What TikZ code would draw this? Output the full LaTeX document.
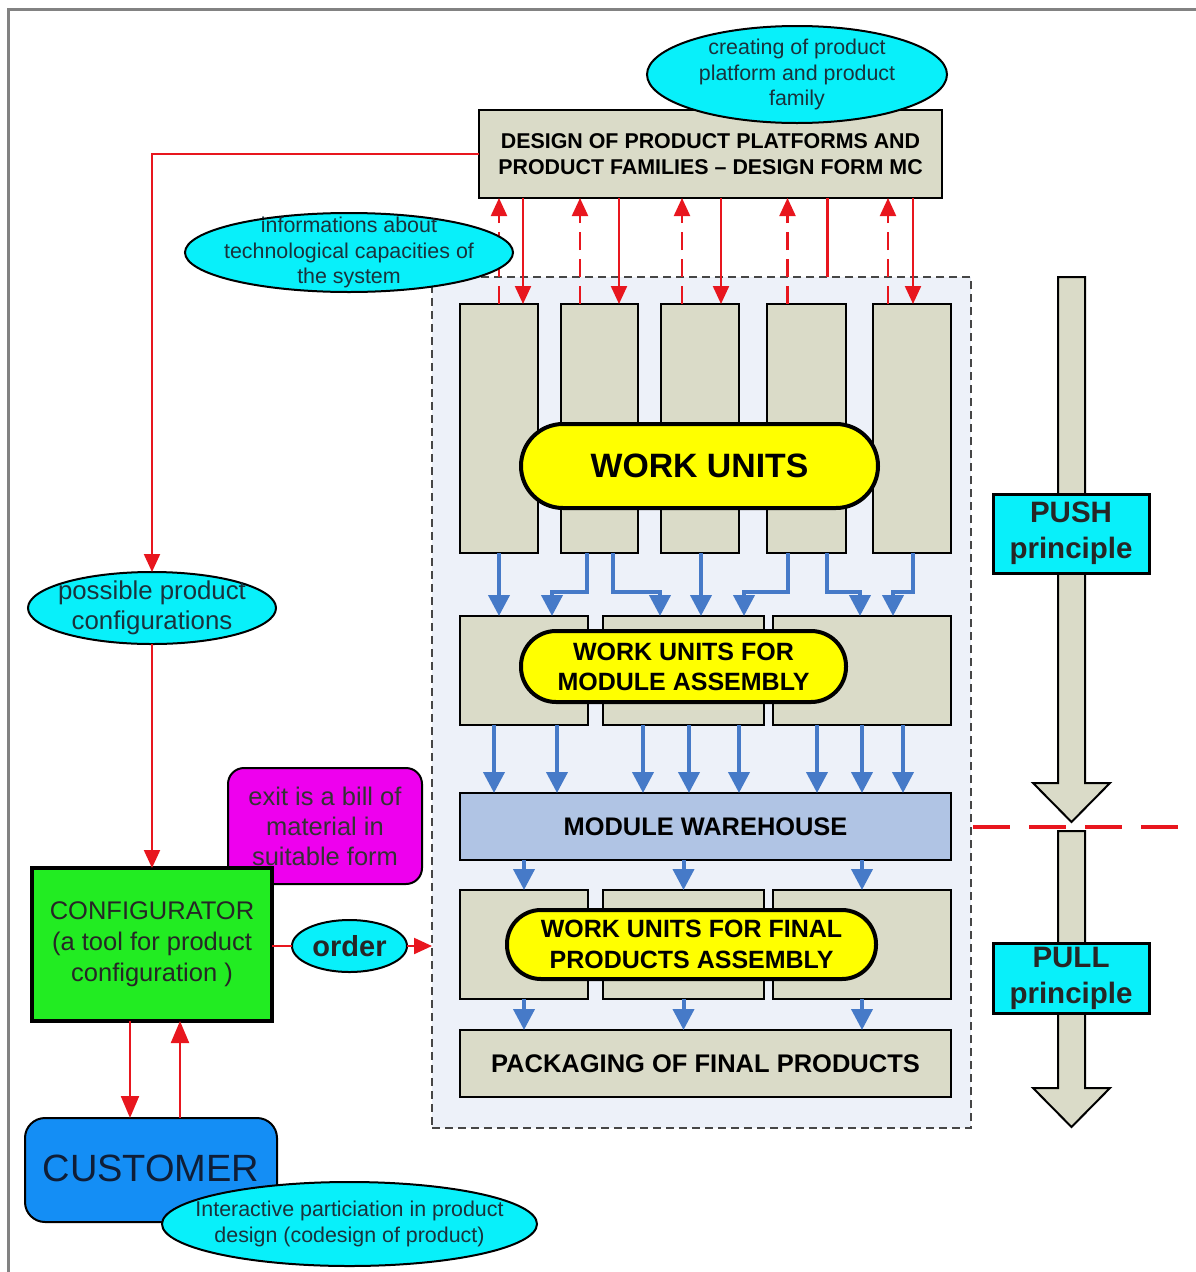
\documentclass[tikz,border=0pt]{standalone}
\usepackage{fontspec}
\setmainfont{Liberation Sans}
\usetikzlibrary{arrows.meta,shapes.geometric,calc}

\definecolor{beige}{RGB}{218,219,200}
\definecolor{zonefill}{RGB}{237,241,249}
\definecolor{whfill}{RGB}{176,196,228}
\definecolor{flowblue}{RGB}{70,122,200}
\definecolor{linkred}{RGB}{232,22,30}
\definecolor{notecyan}{RGB}{8,240,250}
\definecolor{pillyellow}{RGB}{255,255,0}
\definecolor{cfggreen}{RGB}{34,236,34}
\definecolor{notemagenta}{RGB}{238,0,238}
\definecolor{custblue}{RGB}{20,142,245}
\definecolor{framegray}{RGB}{130,130,130}
\definecolor{inktext}{RGB}{25,50,60}
\definecolor{zoneline}{RGB}{70,70,70}

\tikzset{
  box/.style={draw=black, line width=2pt, fill=beige, inner sep=0pt, outer sep=0pt},
  pill/.style={draw=black, line width=4pt, fill=pillyellow, inner sep=0pt, outer sep=0pt, align=center},
  note/.style={ellipse, draw=black, line width=2pt, fill=notecyan, inner sep=0pt, outer sep=0pt},
  notetext/.style={align=center, text=inktext, font=\fontsize{21.4}{25.5}\selectfont},
  redarr/.style={draw=linkred, line width=2.2pt, -{Triangle[width=16pt,length=18pt]}},
  reddash/.style={redarr, dash pattern=on 18pt off 9pt},
  redline/.style={draw=linkred, line width=2.2pt},
  blueflow/.style={draw=flowblue, line width=4pt, -{Triangle[width=21pt,length=21pt]}},
  bigarrow/.style={draw=black, line width=2pt, fill=beige, line join=miter},
  tag/.style={draw=black, line width=3pt, fill=notecyan, inner sep=0pt, outer sep=0pt, align=center,
    font=\bfseries\fontsize{29.5}{36}\selectfont, text=black!85},
}

\begin{document}
\begin{tikzpicture}[x=1pt,y=-1pt]
\useasboundingbox (0,0) rectangle (1196,1272);

% page frame
\draw[framegray, line width=3pt] (8,1272) -- (8,9) -- (1196,9);

% production zone
\node[draw=zoneline, line width=1.5pt, dash pattern=on 8pt off 5pt, fill=zonefill,
  minimum width=539pt, minimum height=851pt, inner sep=0pt, outer sep=0pt] (region) at (701.5,702.5) {};

% design of platforms
\node[box, minimum width=463pt, minimum height=88pt, align=center,
  font=\bfseries\fontsize{21.4}{26}\selectfont] (design) at (710.5,154)
  {DESIGN OF PRODUCT PLATFORMS AND\\PRODUCT FAMILIES -- DESIGN FORM MC};
\node[note, minimum width=300pt, minimum height=97pt] (topnote) at (797,74.5) {};
\node[notetext] at (topnote) {creating of product\\platform and product\\family};

% work unit columns
\foreach \n/\x/\w in {w1/499/78, w2/599.5/77, w3/700/78, w4/806.5/79, w5/912/78}
  \node[box, minimum width=\w pt, minimum height=249pt] (\n) at (\x,428.5) {};

% links between design and work units
\foreach \n/\u/\d in {w1/0/24, w2/-19.5/19.5, w3/-18/21, w5/-24/1} {
  \draw[reddash] ($(\n.north)+(\u,0)$) -- ($(\n.north |- design.south)+(\u,0)$);
  \draw[redarr] ($(\n.north |- design.south)+(\d,0)$) -- ($(\n.north)+(\d,0)$);
}
\draw[reddash] ($(w4.north)+(-19,0)$) -- ($(w4.north |- design.south)+(-19,0)$);
\draw[redline] ($(w4.north |- design.south)+(21,0)$) -- ($(w4.north |- region.north)+(21,0)$);

\node[note, minimum width=328pt, minimum height=79pt] (infonote) at (349,252.5) {};
\node[notetext] at (infonote) {informations about\\technological capacities of\\the system};

\node[pill, minimum width=357pt, minimum height=84pt, rounded corners=42pt,
  font=\bfseries\fontsize{33.8}{40}\selectfont] (wu) at (699.5,466) {WORK UNITS};

% module assembly units
\foreach \n/\x/\w in {m1/524/128, m2/683.5/161, m3/862/178}
  \node[box, minimum width=\w pt, minimum height=109pt] (\n) at (\x,670.5) {};
\node[pill, minimum width=325pt, minimum height=71pt, rounded corners=35pt,
  font=\bfseries\fontsize{25}{30}\selectfont] (mapill) at (683.5,666.5)
  {WORK UNITS FOR\\MODULE ASSEMBLY};

% flows from work units to module assembly
\draw[blueflow] (w1.south) -- (w1.south |- m1.north);
\draw[blueflow] ($(w2.south)+(-12.5,0)$) -- ++(0,39) -| ($(m1.north)+(28,0)$);
\draw[blueflow] ($(w2.south)+(13.5,0)$) -- ++(0,39) -| ($(m2.north)+(-23.5,0)$);
\draw[blueflow] ($(w3.south)+(1,0)$) -- ($(w3.south |- m2.north)+(1,0)$);
\draw[blueflow] ($(w4.south)+(-18.5,0)$) -- ++(0,39) -| ($(m2.north)+(60.5,0)$);
\draw[blueflow] ($(w4.south)+(20.5,0)$) -- ++(0,39) -| ($(m3.north)+(-2,0)$);
\draw[blueflow] ($(w5.south)+(1,0)$) -- ++(0,39) -| ($(m3.north)+(31,0)$);

% module warehouse
\node[box, fill=whfill, minimum width=491pt, minimum height=67pt,
  font=\bfseries\fontsize{25.4}{30}\selectfont] (wh) at (705.5,826.5) {MODULE WAREHOUSE};
\foreach \b/\dx in {m1/-30, m1/33, m2/-40.5, m2/5.5, m2/55.5, m3/-45, m3/0, m3/41}
  \draw[blueflow] ($(\b.south)+(\dx,0)$) -- ($(\b.south |- wh.north)+(\dx,0)$);

% final assembly units
\foreach \n/\x/\w in {f1/524/128, f2/683.5/161, f3/862/178}
  \node[box, minimum width=\w pt, minimum height=109pt] (\n) at (\x,944.5) {};
\node[pill, minimum width=369pt, minimum height=69pt, rounded corners=34pt,
  font=\bfseries\fontsize{25}{31}\selectfont] (fapill) at (691.5,944.5)
  {WORK UNITS FOR FINAL\\PRODUCTS ASSEMBLY};

% packaging
\node[box, minimum width=491pt, minimum height=67pt,
  font=\bfseries\fontsize{25.5}{30}\selectfont] (pk) at (705.5,1063.5) {PACKAGING OF FINAL PRODUCTS};

\foreach \f in {f1,f2,f3} {
  \draw[blueflow] (\f.north |- wh.south) -- (\f.north);
  \draw[blueflow] (\f.south) -- (\f.south |- pk.north);
}

% push / pull principle arrows
\draw[bigarrow] (1058,277) -- (1058,783) -- (1033,783) -- (1071.5,822) -- (1110,783)
  -- (1085,783) -- (1085,277) -- cycle;
\draw[bigarrow] (1058,831) -- (1058,1088) -- (1033,1088) -- (1071.5,1127) -- (1110,1088)
  -- (1085,1088) -- (1085,831) -- cycle;
\draw[linkred, line width=4pt, dash pattern=on 37pt off 19pt] (973,827) -- (1180,827);
\node[tag, minimum width=156pt, minimum height=79pt] (push) at (1071,533.5) {PUSH\\principle};
\node[tag, minimum width=156pt, minimum height=70pt] (pull) at (1071,978) {PULL\\principle};

% configuration side
\node[note, minimum width=248pt, minimum height=72pt] (poss) at (152,608) {};
\node[notetext, font=\fontsize{25.8}{30}\selectfont] at (poss) {possible product\\configurations};

\node[draw=black, line width=2pt, fill=notemagenta, rounded corners=16pt,
  minimum width=194pt, minimum height=116pt, inner sep=0pt, outer sep=0pt, align=center,
  text=black!80, font=\fontsize{25.5}{30}\selectfont] (bom) at (325,826)
  {exit is a bill of\\material in\\suitable form};

\node[draw=black, line width=4pt, fill=cfggreen, minimum width=240pt, minimum height=153pt,
  inner sep=0pt, outer sep=0pt, align=center, text=black!85,
  font=\fontsize{25.5}{31}\selectfont] (config) at (152,944.5)
  {CONFIGURATOR\\(a tool for product\\configuration )};

\draw[redarr] (design.west) -| (poss.north);
\draw[redarr] (poss.south) -- (config.north);

\node[note, minimum width=115pt, minimum height=52pt,
  font=\bfseries\fontsize{29}{34}\selectfont, text=black!85] (order) at (349.5,946) {order};
\draw[redline] (order.west -| config.east) -- (order.west);
\draw[redarr] (order.east) -- (order.east -| region.west);

\node[draw=black, line width=2pt, fill=custblue, rounded corners=20pt,
  minimum width=252pt, minimum height=104pt, inner sep=0pt, outer sep=0pt] (cust) at (151,1170) {};
\node[text={rgb,255:red,15;green,30;blue,55}, font=\fontsize{38}{44}\selectfont] at (151,1168) {CUSTOMER};

\draw[redarr, -{Triangle[width=18pt,length=22pt]}] ($(config.south)+(-22,0)$) -- ($(config.south |- cust.north)+(-22,0)$);
\draw[redarr, -{Triangle[width=18pt,length=22pt]}] ($(config.south |- cust.north)+(28,0)$) -- ($(config.south)+(28,0)$);

\node[note, minimum width=375pt, minimum height=84pt] (codesign) at (349.5,1224) {};
\node[notetext] at (codesign) {Interactive particiation in product\\design (codesign of product)};
\end{tikzpicture}
\end{document}
